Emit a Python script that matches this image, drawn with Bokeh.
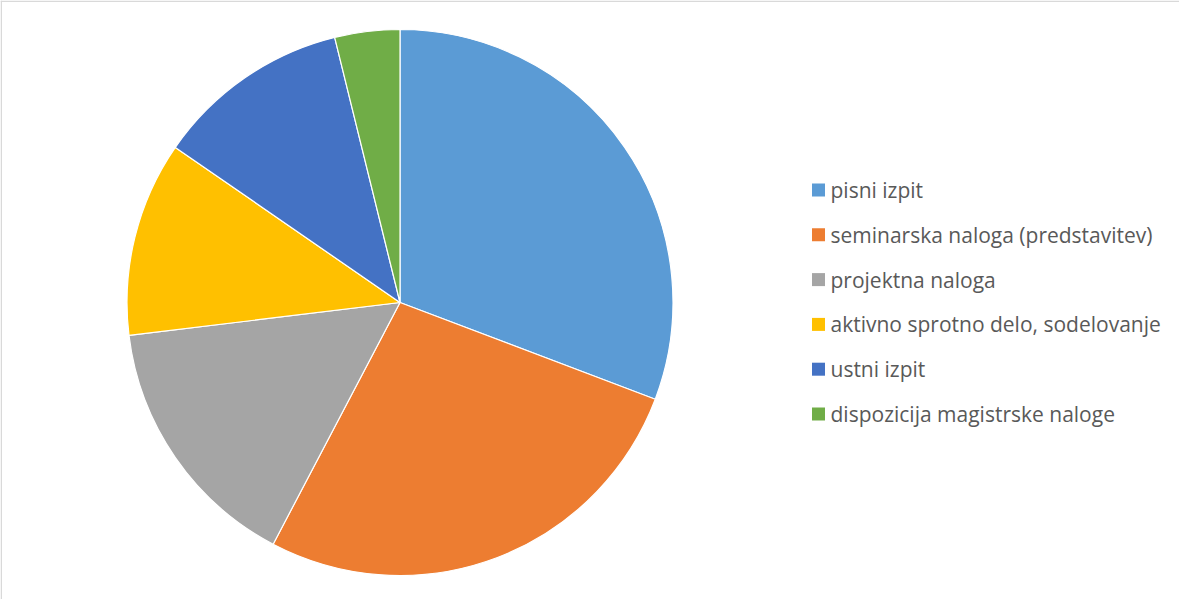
import math
from bokeh.plotting import figure
from bokeh.models import Range1d, ColumnDataSource
from bokeh.core.properties import value
from bokeh.embed import file_html
from bokeh.resources import INLINE

categories = ["pisni izpit", "seminarska naloga (predstavitev)", "projektna naloga",
              "aktivno sprotno delo, sodelovanje", "ustni izpit", "dispozicija magistrske naloge"]
counts = [8, 7, 4, 3, 3, 1]
colors = ["#5B9BD5", "#ED7D31", "#A5A5A5", "#FFC000", "#4472C4", "#70AD47"]

W, H = 1179, 599
p = figure(width=W, height=H, output_backend="svg", toolbar_location=None,
           x_range=Range1d(0, W), y_range=Range1d(H, 0), min_border=0)
p.axis.visible = False
p.grid.visible = False
p.outline_line_color = None
p.background_fill_color = "white"

# chart-area border (only top and left edges are visible in the reference)
p.segment(x0=[0, 0.75], y0=[0.75, 0], x1=[W, 0.75], y1=[0.75, H],
          line_color="#D9D9D9", line_width=1.5)

total = sum(counts)
starts, ends = [], []
cum = 0
for c in counts:
    starts.append(math.pi / 2 - 2 * math.pi * cum / total)
    cum += c
    ends.append(math.pi / 2 - 2 * math.pi * cum / total)

src = ColumnDataSource(dict(start=starts, end=ends, color=colors))
cx, cy, r = 399.5, 302, 273
p.wedge(x=cx, y=cy, radius=r, radius_units="screen", start_angle="start", end_angle="end",
        direction="clock", fill_color="color", line_color="white", line_width=1.2, source=src)

ly0, dy = 189.5, 44.8
lys = [ly0 + i * dy for i in range(len(categories))]
p.scatter(x=[818] * len(categories), y=lys, marker="square", size=13, fill_color=colors, line_color=None)
p.text(x=[830] * len(categories), y=lys, text=categories, text_font=value("Open Sans"),
       text_font_size="21px", text_color="#595959", text_baseline="middle", text_align="left")

open("out.html", "w").write(file_html(p, INLINE))
